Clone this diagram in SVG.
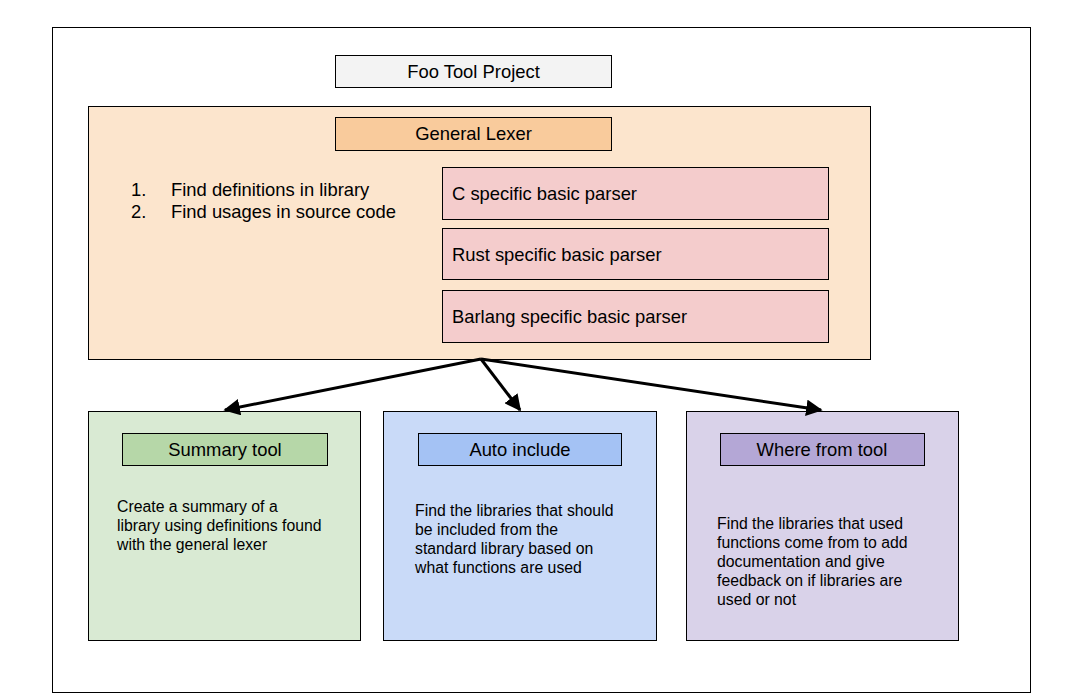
<svg xmlns="http://www.w3.org/2000/svg" width="1073" height="700" viewBox="0 0 1073 700" style="background:#fff">
<style>
text{font-family:"Liberation Sans",Arial,sans-serif;fill:#000}
.lbl{font-size:18.4px}
.desc{font-size:15.8px}
.box{stroke:#000;stroke-width:1}
.conn{stroke:#000;stroke-width:3;fill:none}
</style>
<defs>
<marker id="ah" viewBox="0 0 10 10" refX="9" refY="5" markerWidth="5.5" markerHeight="5.5" orient="auto" markerUnits="strokeWidth">
<path d="M0,0 L10,5 L0,10 z" fill="#000"/>
</marker>
</defs>
<g id="frame"><rect class="box" x="52.5" y="27.5" width="978" height="665" fill="#fff"/></g>
<g id="project"><rect class="box" x="335.5" y="55.5" width="276" height="32" fill="#f3f3f3"/><text class="lbl" x="473.5" y="78" text-anchor="middle">Foo Tool Project</text></g>
<g id="lexer-group"><rect class="box" x="88.5" y="106.5" width="782" height="253" fill="#fce5cd"/></g>
<g id="lexer"><rect class="box" x="335.5" y="117.5" width="276" height="33" fill="#f9cb9c"/><text class="lbl" x="473.5" y="140" text-anchor="middle">General Lexer</text></g>
<g id="list"><text class="lbl" x="131" y="196">1.</text><text class="lbl" x="171" y="196">Find definitions in library</text><text class="lbl" x="131" y="218">2.</text><text class="lbl" x="171" y="218">Find usages in source code</text></g>
<g id="c-parser"><rect class="box" x="442.5" y="167.5" width="386" height="52" fill="#f4cccc"/><text class="lbl" x="452" y="200">C specific basic parser</text></g>
<g id="rust-parser"><rect class="box" x="442.5" y="228.5" width="386" height="51" fill="#f4cccc"/><text class="lbl" x="452" y="261">Rust specific basic parser</text></g>
<g id="barlang-parser"><rect class="box" x="442.5" y="290.5" width="386" height="52" fill="#f4cccc"/><text class="lbl" x="452" y="323">Barlang specific basic parser</text></g>
<g id="summary"><rect class="box" x="88.5" y="411.5" width="272" height="229" fill="#d9ead3"/><rect class="box" x="122.5" y="433.5" width="205" height="32" fill="#b6d7a8"/><text class="lbl" x="225" y="456" text-anchor="middle">Summary tool</text>
<text class="desc" x="117" y="512">Create a summary of a</text><text class="desc" x="117" y="531">library using definitions found</text><text class="desc" x="117" y="550">with the general lexer</text></g>
<g id="auto"><rect class="box" x="383.5" y="411.5" width="273" height="229" fill="#c9daf8"/><rect class="box" x="418.5" y="433.5" width="203" height="32" fill="#a4c2f4"/><text class="lbl" x="520" y="456" text-anchor="middle">Auto include</text>
<text class="desc" x="415" y="516">Find the libraries that should</text><text class="desc" x="415" y="535">be included from the</text><text class="desc" x="415" y="554">standard library based on</text><text class="desc" x="415" y="573">what functions are used</text></g>
<g id="wherefrom"><rect class="box" x="686.5" y="411.5" width="272" height="229" fill="#d9d2e9"/><rect class="box" x="720.5" y="433.5" width="204" height="32" fill="#b4a7d6"/><text class="lbl" x="822" y="456" text-anchor="middle">Where from tool</text>
<text class="desc" x="717" y="529">Find the libraries that used</text><text class="desc" x="717" y="548">functions come from to add</text><text class="desc" x="717" y="567">documentation and give</text><text class="desc" x="717" y="586">feedback on if libraries are</text><text class="desc" x="717" y="605">used or not</text></g>
<g id="connectors">
<line class="conn" x1="481" y1="359" x2="225" y2="410" marker-end="url(#ah)"/>
<line class="conn" x1="481" y1="359" x2="520" y2="410" marker-end="url(#ah)"/>
<line class="conn" x1="481" y1="359" x2="821" y2="410" marker-end="url(#ah)"/>
</g>
</svg>
